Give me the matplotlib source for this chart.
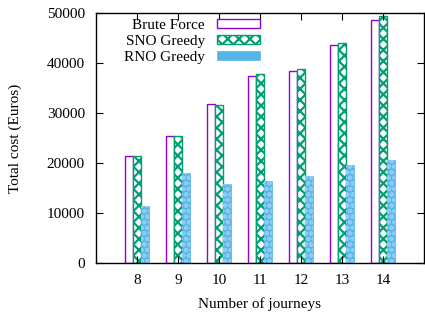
import matplotlib
matplotlib.use("Agg")
import matplotlib.pyplot as plt
import numpy as np

journeys = [8, 9, 10, 11, 12, 13, 14]
brute_force = [21500, 25400, 31800, 37400, 38400, 43600, 48700]
sno_greedy = [21500, 25400, 31700, 37900, 38900, 44100, 49400]
rno_greedy = [11500, 18100, 15800, 16400, 17400, 19600, 20700]
yticks = [0, 10000, 20000, 30000, 40000, 50000]

plt.rcParams['font.family'] = ['Liberation Serif', 'DejaVu Serif']
plt.rcParams['font.size'] = 11
plt.rcParams['hatch.linewidth'] = 1.6

fig = plt.figure(figsize=(4.25, 3.12), dpi=100)
ax = fig.add_axes([96/425, 1-263/312, (424-96)/425, (263-13)/312])

x = np.arange(len(journeys))
w = 0.2
purple = '#9400D3'
green = '#009E73'
blue = '#56B4E9'

ax.bar(x - w, brute_force, w, facecolor='white', edgecolor=purple, linewidth=1.0, label='Brute Force')
ax.bar(x, sno_greedy, w, facecolor='white', edgecolor=green, linewidth=1.0, hatch='xxx', label='SNO Greedy')
ax.bar(x + w, rno_greedy, w, facecolor=blue, edgecolor=blue, linewidth=0.5, label='RNO Greedy')
ax.bar(x + w, rno_greedy, w, fill=False, edgecolor='#8ccbf2', linewidth=0, hatch='ooo')

ax.set_xlim(-1, 7)
ax.set_ylim(0, 50000)
ax.set_xticks(x)
ax.set_xticklabels([str(j) for j in journeys])
ax.set_yticks(yticks)
ax.tick_params(direction='in', top=True, right=True, length=5, width=0.8, pad=8)
for s in ax.spines.values():
    s.set_linewidth(1.0)

ax.set_xlabel('Number of journeys', labelpad=7)
ax.set_ylabel('Total cost (Euros)', labelpad=18)

leg = ax.legend(loc='upper right', bbox_to_anchor=(260/425, 1-19/312), bbox_transform=fig.transFigure,
                frameon=False, markerfirst=False, handlelength=2.8, handleheight=0.55,
                labelspacing=0.18, handletextpad=0.8, borderaxespad=0, borderpad=0)
for t in leg.get_texts():
    t.set_ha('right')

fig.savefig('out.png', dpi=100)
